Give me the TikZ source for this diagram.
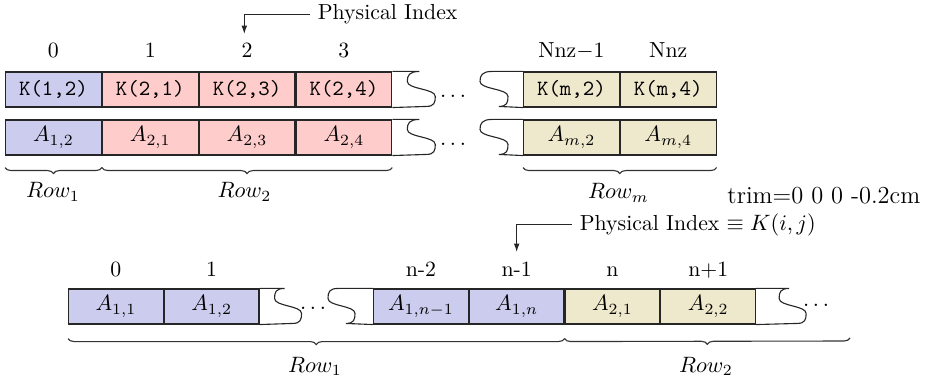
\documentclass[tikz,border=0pt]{standalone}
\usetikzlibrary{decorations.pathreplacing,arrows.meta}
\definecolor{cblue}{RGB}{204,204,238}
\definecolor{cpink}{RGB}{255,204,204}
\definecolor{ctan}{RGB}{238,232,204}
\begin{document}
\begin{tikzpicture}[x=0.45pt,y=-0.45pt,
  every node/.style={font=\fontsize{9.8}{12}\selectfont},
  cell/.style={draw=black!85, line width=0.5pt, minimum width=43.07pt, minimum height=15.75pt, inner sep=0pt, anchor=west},
  bcell/.style={cell, minimum width=42.6pt},
  torn/.style={draw=black!85, line width=0.5pt},
  brc/.style={decorate, decoration={brace, mirror, amplitude=2.7pt}, draw=black!80, line width=0.5pt},
  arr/.style={-{Latex[length=3.8pt,width=2.6pt]}, line width=0.5pt, draw=black!85},
  idx/.style={anchor=base},
  lbl/.style={anchor=base}]
\useasboundingbox (0,0) rectangle (930,378);

% ---------- top figure ----------
\node[cell,fill=cblue] (k0) at (5,89.5) {\texttt{K(1,2)}};
\node[cell,fill=cpink] (k1) at (k0.east) {\texttt{K(2,1)}};
\node[cell,fill=cpink] (k2) at (k1.east) {\texttt{K(2,3)}};
\node[cell,fill=cpink] (k3) at (k2.east) {\texttt{K(2,4)}};
\node[cell,fill=ctan] (k4) at (523,89.5) {\texttt{K(m,2)}};
\node[cell,fill=ctan] (k5) at (k4.east) {\texttt{K(m,4)}};

\node[cell,fill=cblue] (a0) at (5,137.5) {$A_{1,2}$};
\node[cell,fill=cpink] (a1) at (a0.east) {$A_{2,1}$};
\node[cell,fill=cpink] (a2) at (a1.east) {$A_{2,3}$};
\node[cell,fill=cpink] (a3) at (a2.east) {$A_{2,4}$};
\node[cell,fill=ctan] (a4) at (523,137.5) {$A_{m,2}$};
\node[cell,fill=ctan] (a5) at (a4.east) {$A_{m,4}$};

% torn edges
\draw[torn] (k3.north east) -- ++(27,0) .. controls +(-10,0) and +(0,-6) .. ++(-12,10) .. controls +(0,8) and +(0,-8) .. ++(28,15) .. controls +(0,6) and +(8,0) .. ++(-9,10) -- (k3.south east);
\draw[torn] (k4.north west) -- ++(-31,0) .. controls +(-10,0) and +(0,-6) .. ++(-12,10) .. controls +(0,8) and +(0,-8) .. ++(28,15) .. controls +(0,6) and +(8,0) .. ++(-9,10) -- (k4.south west);
\draw[torn] (a3.north east) -- ++(27,0) .. controls +(-10,0) and +(0,-6) .. ++(-12,10) .. controls +(0,8) and +(0,-8) .. ++(28,15) .. controls +(0,6) and +(8,0) .. ++(-9,10) -- (a3.south east);
\draw[torn] (a4.north west) -- ++(-31,0) .. controls +(-10,0) and +(0,-6) .. ++(-12,10) .. controls +(0,8) and +(0,-8) .. ++(28,15) .. controls +(0,6) and +(8,0) .. ++(-9,10) -- (a4.south west);
\node[anchor=base] (d1) at (453,98) {$\dots$};
\node[anchor=base] (d2) at (453,146) {$\dots$};

% indices
\coordinate (ti) at (0,58);
\node[idx] (i0) at (k0 |- ti) {0};
\node[idx] (i1) at (k1 |- ti) {1};
\node[idx] (i2) at (k2 |- ti) {2};
\node[idx] (i3) at (k3 |- ti) {3};
\node[idx] (i4) at (k4 |- ti) {Nnz$-$1};
\node[idx] (i5) at (k5 |- ti) {Nnz};

% physical index arrow
\node[anchor=west] (pi) at (310,14.6) {Physical Index};
\coordinate (pt) at (244.3,34);
\draw[arr] (pi.west) -| (pt);

% braces
\draw[brc] ([yshift=-5.4pt]a0.south west) -- ([yshift=-5.4pt]a0.south east);
\draw[brc] ([yshift=-5.4pt]a1.south west) -- ([yshift=-5.4pt]a3.south east);
\draw[brc] ([yshift=-5.4pt]a4.south west) -- ([yshift=-5.4pt]a5.south east);
\node[lbl] (r1) at (53,198) {$Row_1$};
\node[lbl] (r2) at (244.5,198) {$Row_2$};
\node[lbl] (rm) at (618.5,199) {$Row_m$};

\node[anchor=base west, inner sep=0pt, font=\fontsize{11}{13}\selectfont] (trim) at (727,204) {trim=0 0 0 -0.2cm};

% ---------- bottom figure ----------
\node[bcell,fill=cblue] (b0) at (68,306.5) {$A_{1,1}$};
\node[bcell,fill=cblue] (b1) at (b0.east) {$A_{1,2}$};
\node[bcell,fill=cblue] (b2) at (373,306.5) {$A_{1,n-1}$};
\node[bcell,fill=cblue] (b3) at (b2.east) {$A_{1,n}$};
\node[bcell,fill=ctan] (b4) at (b3.east) {$A_{2,1}$};
\node[bcell,fill=ctan] (b5) at (b4.east) {$A_{2,2}$};

\draw[torn] (b1.north east) -- ++(25,0) .. controls +(-9,0) and +(0,-6) .. ++(-10,10) .. controls +(0,8) and +(0,-8) .. ++(27,15) .. controls +(0,6) and +(8,0) .. ++(-9,10) -- (b1.south east);
\draw[torn] (b2.north west) -- ++(-35,0) .. controls +(-9,0) and +(0,-6) .. ++(-10,10) .. controls +(0,8) and +(0,-8) .. ++(27,15) .. controls +(0,6) and +(8,0) .. ++(-9,10) -- (b2.south west);
\draw[torn] (b5.north east) -- ++(33,0) .. controls +(-9,0) and +(0,-6) .. ++(-10,10) .. controls +(0,8) and +(0,-8) .. ++(27,15) .. controls +(0,6) and +(8,0) .. ++(-9,10) -- (b5.south east);
\node[anchor=base] (d3) at (313,309.5) {$\dots$};
\node[anchor=base] (d4) at (816,306.5) {$\dots$};

\coordinate (tb) at (0,277);
\node[idx] (j0) at (b0 |- tb) {0};
\node[idx] (j1) at (b1 |- tb) {1};
\node[idx] (j2) at (b2 |- tb) {n-2};
\node[idx] (j3) at (b3 |- tb) {n-1};
\node[idx] (j4) at (b4 |- tb) {n};
\node[idx] (j5) at (b5 |- tb) {n+1};

\node[anchor=west, inner ysep=0pt] (pj) at (572,224.5) {Physical Index $\equiv K(i,j)$};
\coordinate (ptb) at (515,252);
\draw[arr] (pj.west) -| (b3 |- ptb);

\coordinate (bend) at (850,338);
\draw[brc] ([yshift=-6.3pt]b0.south west) -- ([yshift=-6.3pt]b3.south east);
\draw[brc] ([yshift=-6.3pt]b4.south west) -- (bend);
\node[lbl] (s1) at (315,372) {$Row_1$};
\node[lbl] (s2) at (706,372) {$Row_2$};
\end{tikzpicture}
\end{document}
